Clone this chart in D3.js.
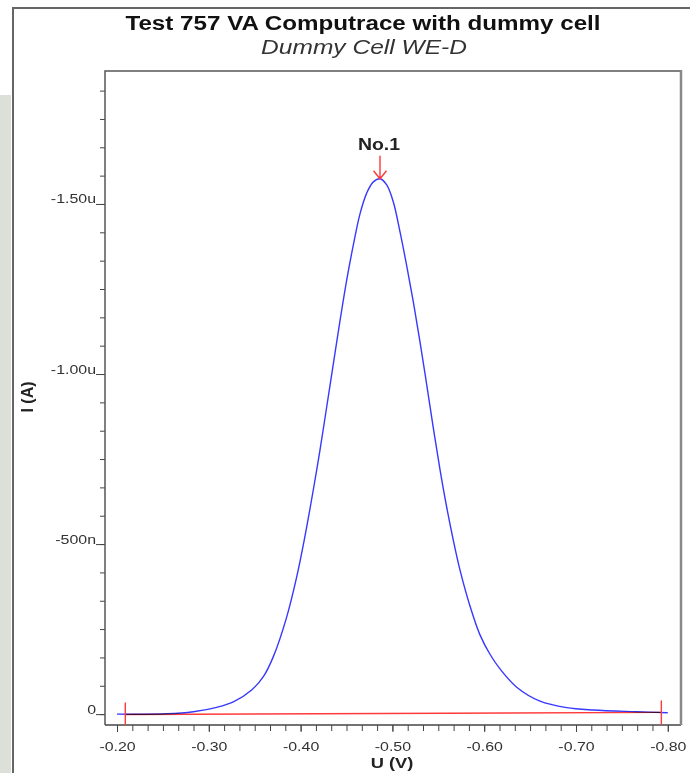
<!DOCTYPE html>
<meta charset="utf-8">
<style>
body {
    margin: 0;
    background: #fff;
}

text {
    font-family: Arial, "Liberation Sans", sans-serif;
    fill: #222;
}

.tick line {
    stroke: #444;
}
</style>
<body>
    <script src="https://cdn.jsdelivr.net/npm/d3@7"></script>
    <script>
        // measured curve, potential in V, current in uA
        const potential = [
            -0.200, -0.2541, -0.2831, -0.3086, -0.3267, -0.3467, -0.3594, -0.3703,
            -0.3849, -0.3958, -0.4048, -0.4138, -0.4211, -0.4284, -0.4356, -0.4429,
            -0.4502, -0.4574, -0.4647, -0.4720, -0.4792, -0.4865,
            -0.4938, -0.5010, -0.5083, -0.5156, -0.5228, -0.5301, -0.5374, -0.5446,
            -0.5519, -0.5591, -0.5663, -0.5736, -0.5845, -0.5954, -0.6063, -0.6172,
            -0.6354, -0.6608, -0.6899, -0.7188, -0.7661, -0.800
        ];
        const current = [
            0.000, -0.001, -0.007, -0.020, -0.036, -0.071, -0.110, -0.169,
            -0.286, -0.404, -0.524, -0.659, -0.776, -0.903, -1.029, -1.156,
            -1.276, -1.379, -1.471, -1.532, -1.565, -1.574,
            -1.556, -1.506, -1.418, -1.318, -1.212, -1.094, -0.968, -0.841,
            -0.718, -0.609, -0.512, -0.424, -0.318, -0.233, -0.176, -0.133,
            -0.079, -0.038, -0.019, -0.012, -0.007, -0.004
        ];

        const basePotential = [-0.209, -0.793];
        const baseCurrent = [0.001, -0.005];

        const peakLabel = "No.1";

        const xTickValues = [-0.2, -0.3, -0.4, -0.5, -0.6, -0.7, -0.8];
        const xTickLabels = ["-0.20", "-0.30", "-0.40", "-0.50", "-0.60", "-0.70", "-0.80"];
        const yTickValues = [0, -0.5, -1.0, -1.5];
        const yTickLabels = ["0", "-500n", "-1.00u", "-1.50u"];

        const width = 690;
        const height = 773;
        const stretch = 1.18;

        const plotLeft = 105, plotRight = 681, plotTop = 71, plotBottom = 725;

        const x = d3.scaleLinear().domain([-0.1869, -0.8144]).range([plotLeft, plotRight]);
        const y = d3.scaleLinear().domain([0.032, -1.891]).range([plotBottom, plotTop]);

        const svg = d3.select("body").append("svg")
            .attr("width", width)
            .attr("height", height);

        // grey strip left of the window frame
        svg.append("rect")
            .attr("x", 0).attr("y", 95)
            .attr("width", 11).attr("height", height - 95)
            .attr("fill", "#dde0d8");

        // window frame
        svg.append("path")
            .attr("d", "M13," + height + "V8H" + width)
            .attr("fill", "none")
            .attr("stroke", "#666")
            .attr("stroke-width", 2);

        function stretchText(sel) {
            sel.each(function() {
                const t = d3.select(this);
                const tx = +t.attr("x") || 0;
                const ty = +t.attr("y") || 0;
                t.attr("x", 0).attr("y", 0)
                    .attr("transform", "translate(" + tx + "," + ty + ") scale(" + stretch + ",1)");
            });
        }

        svg.append("text")
            .attr("x", 363).attr("y", 30)
            .attr("text-anchor", "middle")
            .style("font-size", "20.5px")
            .style("font-weight", "bold")
            .style("fill", "#111")
            .text("Test 757 VA Computrace with dummy cell")
            .call(stretchText);

        svg.append("text")
            .attr("x", 364).attr("y", 54)
            .attr("text-anchor", "middle")
            .style("font-size", "20.8px")
            .style("font-style", "italic")
            .style("fill", "#333")
            .text("Dummy Cell WE-D")
            .call(stretchText);

        // minor ticks
        const xMinor = d3.range(0, 37).map(function(i) { return -0.2 - i * 0.1 / 6; });
        const yMinor = d3.range(0, 23).map(function(i) { return -i * 0.5 / 6; });

        svg.append("g")
            .attr("transform", "translate(0," + plotBottom + ")")
            .call(d3.axisBottom(x).tickValues(xMinor).tickSize(6).tickFormat(""))
            .call(function(g) { g.select(".domain").remove(); });

        svg.append("g")
            .attr("transform", "translate(" + plotLeft + ",0)")
            .call(d3.axisLeft(y).tickValues(yMinor).tickSize(5).tickFormat(""))
            .call(function(g) { g.select(".domain").remove(); });

        // labelled ticks
        const xAxis = svg.append("g")
            .attr("transform", "translate(0," + plotBottom + ")")
            .call(d3.axisBottom(x).tickValues(xTickValues).tickSize(7)
                .tickFormat(function(d, i) { return xTickLabels[i]; }));
        xAxis.select(".domain").remove();
        xAxis.selectAll("text")
            .attr("y", 26).attr("dy", null)
            .style("font-size", "13.5px")
            .style("fill", "#333")
            .call(stretchText);
        xAxis.attr("font-family", null).attr("font-size", null);

        const yAxis = svg.append("g")
            .attr("transform", "translate(" + plotLeft + ",0)")
            .call(d3.axisLeft(y).tickValues(yTickValues).tickSize(9).tickPadding(0)
                .tickFormat(function(d, i) { return yTickLabels[i]; }));
        yAxis.select(".domain").remove();
        yAxis.selectAll("text")
            .attr("y", -1).attr("dy", null)
            .style("font-size", "13.5px")
            .style("fill", "#333")
            .call(stretchText);
        yAxis.attr("font-family", null).attr("font-size", null);

        // plot frame
        svg.append("path")
            .attr("d", "M" + plotLeft + "," + plotBottom + "V" + plotTop + "H" + plotRight)
            .attr("fill", "none").attr("stroke", "#555").attr("stroke-width", 1.5);
        svg.append("line")
            .attr("x1", plotLeft).attr("x2", plotRight).attr("y1", plotBottom).attr("y2", plotBottom)
            .attr("stroke", "#444").attr("stroke-width", 1.5);
        svg.append("line")
            .attr("x1", plotRight).attr("x2", plotRight).attr("y1", plotTop - 1).attr("y2", plotBottom)
            .attr("stroke", "#888").attr("stroke-width", 2.5);

        // axis titles
        svg.append("text")
            .attr("transform", "translate(33,397) rotate(-90)")
            .attr("text-anchor", "middle")
            .style("font-size", "16px")
            .style("font-weight", "bold")
            .text("I (A)");

        svg.append("text")
            .attr("x", 392).attr("y", 768)
            .attr("text-anchor", "middle")
            .style("font-size", "15.5px")
            .style("font-weight", "bold")
            .text("U (V)")
            .call(stretchText);

        // voltammogram
        const line = d3.line()
            .x(function(d) { return x(d[0]); })
            .y(function(d) { return y(d[1]); })
            .curve(d3.curveCatmullRom);

        svg.append("path")
            .datum(d3.zip(potential, current))
            .attr("d", line)
            .attr("fill", "none")
            .attr("stroke", "#3838ff")
            .attr("stroke-width", 1.4);

        // baseline with end markers
        svg.append("path")
            .datum(d3.zip(basePotential, baseCurrent))
            .attr("d", d3.line().x(function(d) { return x(d[0]); }).y(function(d) { return y(d[1]); }))
            .attr("fill", "none")
            .attr("stroke", "#ff3a3a")
            .attr("stroke-width", 1.4)
            .style("mix-blend-mode", "multiply");

        svg.selectAll(".marker")
            .data(d3.zip(basePotential, baseCurrent))
            .enter().append("line")
            .attr("class", "marker")
            .attr("x1", function(d) { return x(d[0]); })
            .attr("x2", function(d) { return x(d[0]); })
            .attr("y1", function(d) { return y(d[1]) - 12; })
            .attr("y2", plotBottom)
            .attr("stroke", "#ff3a3a")
            .attr("stroke-width", 1.4);

        // peak marker
        const peakIndex = d3.minIndex(current);
        const px = x(potential[peakIndex]);
        const py = y(current[peakIndex]);

        svg.append("path")
            .attr("d", "M" + px + "," + (py - 23) + "V" + py +
                "M" + (px - 6.5) + "," + (py - 8) + "L" + px + "," + py + "L" + (px + 6.5) + "," + (py - 8))
            .attr("fill", "none")
            .attr("stroke", "#ff3a3a")
            .attr("stroke-width", 1.4);

        svg.append("text")
            .attr("x", px - 1).attr("y", py - 29)
            .attr("text-anchor", "middle")
            .style("font-size", "16.5px")
            .style("font-weight", "bold")
            .text(peakLabel)
            .call(stretchText);
    </script>
</body>
